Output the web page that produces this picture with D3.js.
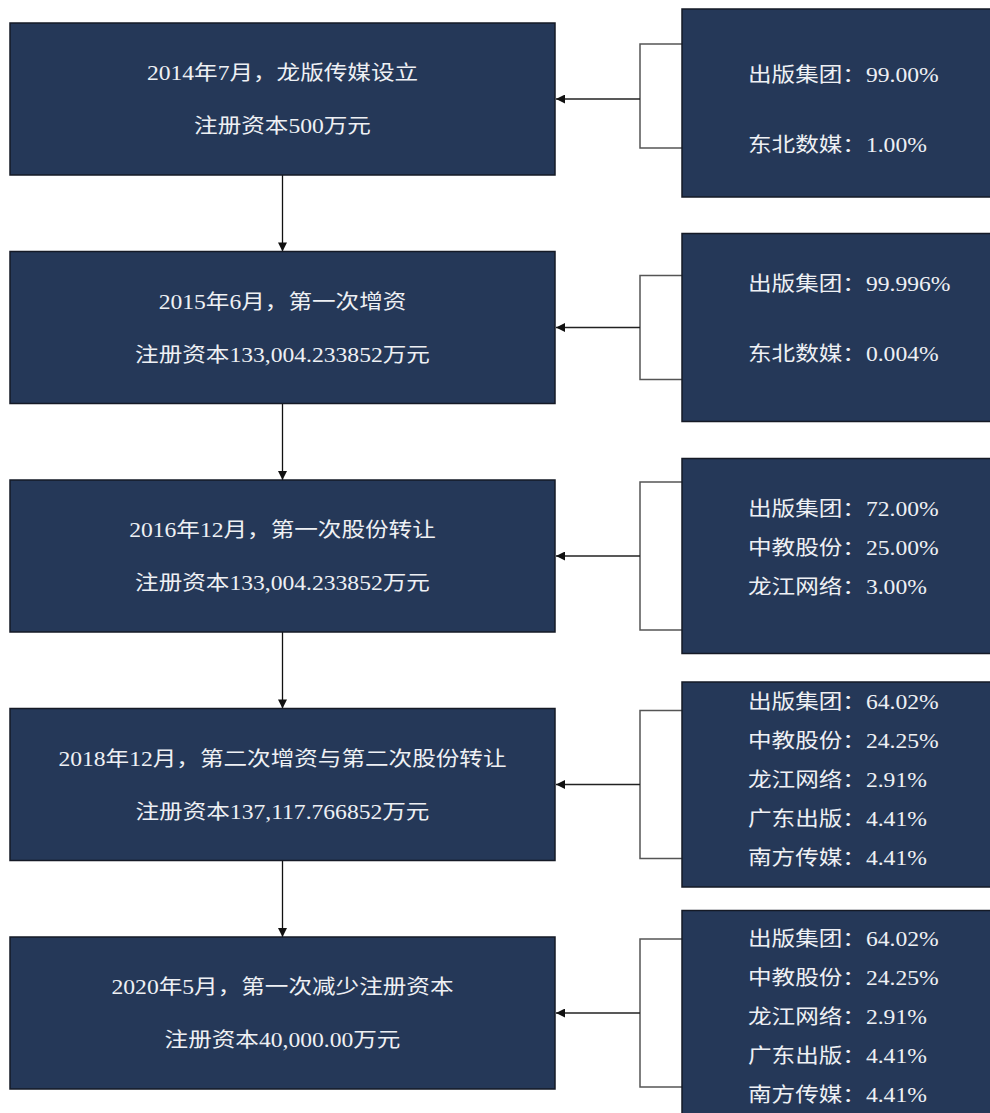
<!DOCTYPE html>
<html>
<head>
<meta charset="utf-8">
<script src="https://cdn.jsdelivr.net/npm/d3@7"></script>
<style>
  body { margin: 0; background: #fff; }
  svg text { font-family: "Liberation Serif", "Times New Roman", "Noto Sans CJK SC", serif; fill: #eef0f4; }
</style>
</head>
<body>
<svg width="990" height="1113"></svg>
<script>
// stages of the company, top to bottom
var stageTitles = [
    "2014年7月，龙版传媒设立",
    "2015年6月，第一次增资",
    "2016年12月，第一次股份转让",
    "2018年12月，第二次增资与第二次股份转让",
    "2020年5月，第一次减少注册资本"
];
var stageCapital = [
    "注册资本500万元",
    "注册资本133,004.233852万元",
    "注册资本133,004.233852万元",
    "注册资本137,117.766852万元",
    "注册资本40,000.00万元"
];
// shareholders for each stage
var holderNames = [
    ["出版集团", "东北数媒"],
    ["出版集团", "东北数媒"],
    ["出版集团", "中教股份", "龙江网络"],
    ["出版集团", "中教股份", "龙江网络", "广东出版", "南方传媒"],
    ["出版集团", "中教股份", "龙江网络", "广东出版", "南方传媒"]
];
var holderShares = [
    ["99.00%", "1.00%"],
    ["99.996%", "0.004%"],
    ["72.00%", "25.00%", "3.00%"],
    ["64.02%", "24.25%", "2.91%", "4.41%", "4.41%"],
    ["64.02%", "24.25%", "2.91%", "4.41%", "4.41%"]
];

var svg = d3.select("svg");
var boxFill = "#253858";
var boxStroke = "#151a26";

// layout
var left = { x: 10, w: 545, h: 152 };
var right = { x: 682, w: 330, textX: 748 };
var bracketX = 640;
var stretch = 1.18;                 // the source text is drawn a bit wide

var y = d3.scaleLinear().domain([0, stageTitles.length - 1]).range([99, 1013]);
var cx = left.x + left.w / 2;

var defs = svg.append("defs");
defs.append("marker")
    .attr("id", "arrow")
    .attr("viewBox", "0 0 10 10")
    .attr("refX", 10).attr("refY", 5)
    .attr("markerWidth", 10).attr("markerHeight", 9)
    .attr("markerUnits", "userSpaceOnUse")
    .attr("orient", "auto")
    .append("path")
    .attr("d", "M0,0 L10,5 L0,10 Z")
    .attr("fill", "#111");

var stages = d3.range(stageTitles.length);

// vertical arrows between stage boxes
svg.append("g").selectAll("line")
    .data(stages.slice(1))
    .enter().append("line")
    .attr("x1", cx).attr("x2", cx)
    .attr("y1", function (i) { return y(i - 1) + left.h / 2; })
    .attr("y2", function (i) { return y(i) - left.h / 2; })
    .attr("stroke", "#111")
    .attr("stroke-width", 1.3)
    .attr("marker-end", "url(#arrow)");

// left boxes
var lg = svg.append("g").selectAll("g")
    .data(stages)
    .enter().append("g");

lg.append("rect")
    .attr("x", left.x)
    .attr("y", function (i) { return y(i) - left.h / 2; })
    .attr("width", left.w)
    .attr("height", left.h)
    .attr("fill", boxFill)
    .attr("stroke", boxStroke)
    .attr("stroke-width", 1.5);

lg.append("text")
    .attr("transform", function (i) { return "translate(" + cx + "," + (y(i) - 26) + ") scale(" + stretch + ",1)"; })
    .attr("text-anchor", "middle")
    .attr("dy", "0.35em")
    .style("font-size", "20px")
    .text(function (i) { return stageTitles[i]; });

lg.append("text")
    .attr("transform", function (i) { return "translate(" + cx + "," + (y(i) + 27) + ") scale(" + stretch + ",1)"; })
    .attr("text-anchor", "middle")
    .attr("dy", "0.35em")
    .style("font-size", "20px")
    .text(function (i) { return stageCapital[i]; });

// right boxes with shareholders
function boxHeight(n) { return n <= 2 ? 188 : (n === 3 ? 195 : 205); }
function lineGap(n) { return n <= 2 ? 70 : 39; }
function bracketHalf(n) { return n <= 2 ? 52 : 74; }

var rg = svg.append("g").selectAll("g")
    .data(stages)
    .enter().append("g");

// bracket
rg.append("path")
    .attr("d", function (i) {
        var c = y(i) + (i === 0 ? -3 : 0), b = bracketHalf(holderNames[i].length);
        return "M" + right.x + "," + (c - b) + "H" + bracketX + "V" + (c + b) + "H" + right.x;
    })
    .attr("fill", "none")
    .attr("stroke", "#555")
    .attr("stroke-width", 1.5);

// arrow into the stage box
rg.append("line")
    .attr("x1", bracketX)
    .attr("x2", left.x + left.w + 1)
    .attr("y1", function (i) { return y(i); })
    .attr("y2", function (i) { return y(i); })
    .attr("stroke", "#222")
    .attr("stroke-width", 1.5)
    .attr("marker-end", "url(#arrow)");

rg.append("rect")
    .attr("x", right.x)
    .attr("y", function (i) { return y(i) + (i === 0 ? 4 : 0) - boxHeight(holderNames[i].length) / 2; })
    .attr("width", right.w)
    .attr("height", function (i) { return boxHeight(holderNames[i].length); })
    .attr("fill", boxFill)
    .attr("stroke", boxStroke)
    .attr("stroke-width", 1.5);

rg.each(function (i) {
    var n = holderNames[i].length;
    var gap = lineGap(n);
    var c = y(i) + (n <= 2 ? (i === 0 ? 11 : -9) : (i === 2 ? -8 : (i === 3 ? -5 : 4)));
    d3.select(this).selectAll("text")
        .data(holderNames[i])
        .enter().append("text")
        .attr("transform", function (d, k) {
            return "translate(" + right.textX + "," + (c + (k - (n - 1) / 2) * gap) + ") scale(" + stretch + ",1)";
        })
        .attr("dy", "0.35em")
        .style("font-size", "20px")
        .text(function (d, k) { return d + "：" + holderShares[i][k]; });
});
</script>
</body>
</html>
